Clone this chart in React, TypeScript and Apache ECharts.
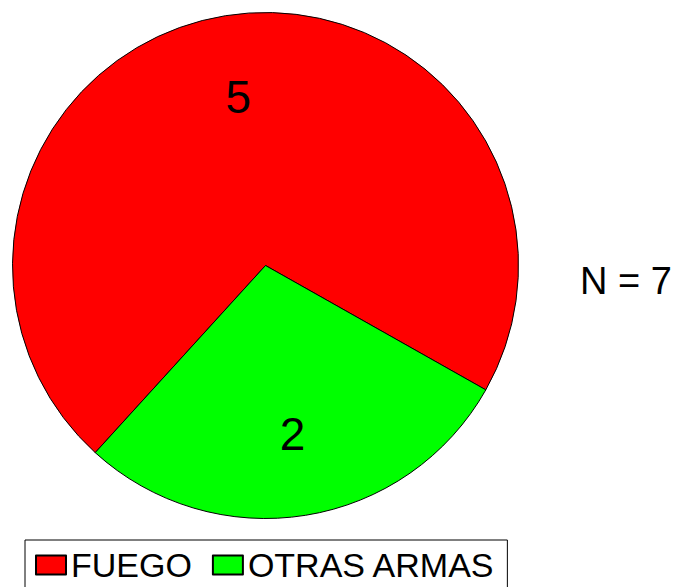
import React, { useEffect, useRef } from "react";
import * as echarts from "echarts";

const categories = ["FUEGO", "OTRAS ARMAS"];
const values = [5, 2];
const colors = ["#ff0000", "#00ff00"];
const totalLabel = "N = 7";

export default function App() {
  const ref = useRef<HTMLDivElement>(null);
  useEffect(() => {
    if (!ref.current) return;
    const chart = echarts.init(ref.current, null, { renderer: "svg" });
    const data = categories.map((name, i) => ({
      name,
      value: values[i],
      itemStyle: { color: colors[i] },
    }));
    const font = "'Liberation Sans', Arial, sans-serif";
    chart.setOption({
      animation: false,
      backgroundColor: "#ffffff",
      legend: {
        data: categories,
        left: 25,
        top: 540,
        orient: "horizontal",
        padding: [8, 12, 10, 10],
        itemWidth: 30,
        itemHeight: 19,
        itemGap: 20,
        borderColor: "#000000",
        borderWidth: 1,
        backgroundColor: "#ffffff",
        icon: "rect",
        textStyle: { fontSize: 34, color: "#000000", fontFamily: font },
      },
      graphic: [
        {
          type: "text",
          left: 580,
          top: 262,
          style: {
            text: totalLabel,
            fontSize: 38,
            fontFamily: font,
            fill: "#000000",
          },
        },
      ],
      series: [
        {
          type: "pie",
          center: [265.5, 265.5],
          radius: [0, 253],
          startAngle: 227.7,
          clockwise: true,
          data,
          label: { show: false },
          labelLine: { show: false },
          itemStyle: { borderColor: "#000000", borderWidth: 1 },
          emphasis: { disabled: true },
        },
        {
          type: "pie",
          center: [265.5, 265.5],
          radius: [83, 253],
          startAngle: 227.7,
          clockwise: true,
          silent: true,
          legendHoverLink: false,
          data: categories.map((name, i) => ({ name, value: values[i] })),
          itemStyle: { color: "transparent", borderWidth: 0 },
          label: {
            show: true,
            position: "inside",
            formatter: "{c}",
            fontSize: 46,
            color: "#000000",
            fontFamily: font,
          },
          labelLine: { show: false },
          emphasis: { disabled: true },
        },
      ],
    });
    return () => chart.dispose();
  }, []);
  return (
    <div
      ref={ref}
      style={{ position: "absolute", left: 0, top: 0, width: 677, height: 587 }}
    />
  );
}
